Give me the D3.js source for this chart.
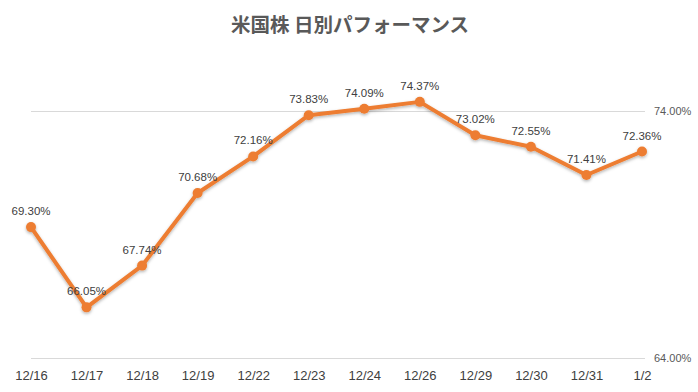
<!DOCTYPE html>
<html>
<head>
<meta charset="utf-8">
<script src="https://cdn.jsdelivr.net/npm/d3@7"></script>
<style>
  body { margin: 0; background: #fff; }
  svg { display: block; }
</style>
</head>
<body>
<svg id="chart"></svg>
<script>
'use strict';

// data
var dates = ['12/16', '12/17', '12/18', '12/19', '12/22', '12/23', '12/24', '12/26', '12/29', '12/30', '12/31', '1/2'];
var perf = [69.30, 66.05, 67.74, 70.68, 72.16, 73.83, 74.09, 74.37, 73.02, 72.55, 71.41, 72.36];
var yTicks = [64, 74];
var chartTitle = '米国株 日別パフォーマンス';

var canvasWidth = 698;
var canvasHeight = 392;
var margin = { top: 111, right: 56, bottom: 34, left: 31 };
var width = canvasWidth - margin.left - margin.right;
var height = canvasHeight - margin.top - margin.bottom;

var svg = d3.select('#chart')
  .attr('width', canvasWidth)
  .attr('height', canvasHeight);

// soft shadow under line + markers
var filt = svg.append('defs').append('filter')
  .attr('id', 'shadow')
  .attr('x', '-10%').attr('y', '-10%')
  .attr('width', '120%').attr('height', '130%');
filt.append('feDropShadow')
  .attr('dx', 0).attr('dy', 1.5)
  .attr('stdDeviation', 1.5)
  .attr('flood-color', '#000')
  .attr('flood-opacity', 0.3);

svg.append('text')
  .attr('x', 350)
  .attr('y', 32)
  .attr('text-anchor', 'middle')
  .style('font-family', '"Noto Sans CJK JP", sans-serif')
  .style('font-size', '19.5px')
  .style('font-weight', 'bold')
  .style('fill', '#595959')
  .text(chartTitle);

var g = svg.append('g')
  .attr('transform', 'translate(' + margin.left + ',' + margin.top + ')');

var xScale = d3.scalePoint().domain(dates).range([0, width]);
var yScale = d3.scaleLinear().domain([64, 74]).range([height, 0]);

// gridlines + right side labels
var yAxis = g.append('g')
  .attr('class', 'y axis')
  .attr('transform', 'translate(' + (width + 3) + ',0)')
  .call(d3.axisRight(yScale)
    .tickValues(yTicks)
    .tickSize(-(width + 3))
    .tickPadding(9)
    .tickFormat(function(d) { return d3.format('.2f')(d) + '%'; }));
yAxis.select('.domain').remove();
yAxis.selectAll('line').attr('stroke', '#d9d9d9').attr('stroke-width', 1);
yAxis.selectAll('text')
  .style('font-family', '"Liberation Sans", sans-serif')
  .style('font-size', '11px')
  .style('fill', '#595959');

// x axis labels
var xAxis = g.append('g')
  .attr('class', 'x axis')
  .attr('transform', 'translate(0,' + height + ')')
  .call(d3.axisBottom(xScale).tickSize(0).tickPadding(13));
xAxis.select('.domain').remove();
xAxis.selectAll('text')
  .style('font-family', '"Liberation Sans", sans-serif')
  .style('font-size', '13px')
  .style('fill', '#404040');

var line = d3.line()
  .x(function(d, i) { return xScale(dates[i]); })
  .y(function(d) { return yScale(d); });

var series = g.append('g').attr('filter', 'url(#shadow)');

series.append('path')
  .datum(perf)
  .attr('fill', 'none')
  .attr('stroke', '#ED7D31')
  .attr('stroke-width', 4)
  .attr('stroke-linejoin', 'round')
  .attr('d', line);

series.selectAll('circle')
  .data(perf)
  .enter()
  .append('circle')
  .attr('cx', function(d, i) { return xScale(dates[i]); })
  .attr('cy', function(d) { return yScale(d); })
  .attr('r', 5)
  .attr('fill', '#ED7D31');

// value labels above points
g.selectAll('.val')
  .data(perf)
  .enter()
  .append('text')
  .attr('class', 'val')
  .attr('x', function(d, i) { return xScale(dates[i]); })
  .attr('y', function(d) { return yScale(d) - 12; })
  .attr('text-anchor', 'middle')
  .style('font-family', '"Liberation Sans", sans-serif')
  .style('font-size', '11.5px')
  .style('fill', '#404040')
  .text(function(d) { return d.toFixed(2) + '%'; });
</script>
</body>
</html>
